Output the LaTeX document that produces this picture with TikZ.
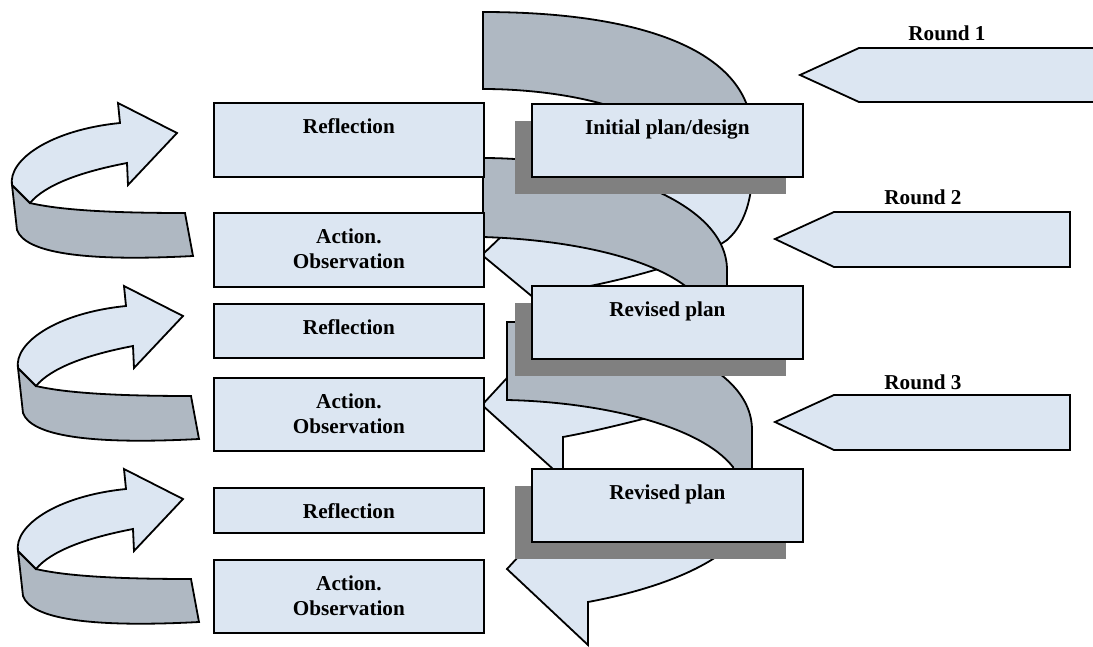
\documentclass[tikz,border=0pt]{standalone}
\usepackage{fontspec}
\setmainfont{Liberation Serif}
\usetikzlibrary{shadows}
\definecolor{paleblue}{RGB}{220,230,242}
\definecolor{backband}{RGB}{175,184,194}
\definecolor{shade}{RGB}{128,128,128}

\begin{document}
\begin{tikzpicture}[x=1pt,y=-1pt,
  every node/.style={font=\fontsize{21.2}{25}\selectfont\bfseries},
  front/.style={draw,fill=paleblue,line width=1.8pt},
  back/.style={draw,fill=backband,line width=1.8pt},
  stagebox/.style={front,minimum width=270pt,inner sep=0pt,anchor=north west},
  planbox/.style={stagebox,minimum width=271pt,minimum height=73pt,
    drop shadow={shadow xshift=-17pt,shadow yshift=-17pt,fill=shade,opacity=1}},
  lbl/.style={anchor=base,inner sep=0pt,align=center},
  uturn/.pic={
    \draw[back] (12,185) -- (17,230) .. controls (25,252) and (80,262) .. (193,256)
      -- (185,213) .. controls (110,213) and (60,210) .. (30,203) -- cycle;
    \draw[front] (12,185) .. controls (8,160) and (50,130) .. (120,123) -- (118,103)
      -- (177,133) -- (128,185) -- (127,163) .. controls (80,172) and (45,185) .. (30,203) -- cycle;
  }]
  \useasboundingbox (0,0) rectangle (1093,646);
  \clip (0,0) rectangle (1093,646);

  % spiral, round 1
  \draw[back] (483,12) .. controls (640,12) and (748,50) .. (752,130) -- (753,150) -- (670,150)
    .. controls (665,112) and (570,89) .. (483,89) -- cycle;
  \draw[front] (753,150) .. controls (754,190) and (748,222) .. (727,240)
    .. controls (705,256) and (640,278) .. (563,291) -- (563,322) -- (482,255) -- (550,190) -- (560,228)
    .. controls (610,222) and (650,210) .. (665,170) -- (670,150) -- cycle;
  % round 2
  \draw[back] (483,158) .. controls (600,158) and (727,200) .. (727,270) -- (727,320) -- (705,320)
    -- (700,300) .. controls (670,262) and (580,240) .. (483,237) -- cycle;
  \draw[front] (727,320) .. controls (727,380) and (690,408) .. (643,419)
    .. controls (615,426) and (590,432) .. (563,437) -- (563,478) -- (482,405) -- (555,326) -- (563,372)
    .. controls (640,365) and (700,345) .. (705,320) -- cycle;
  % round 3
  \draw[back] (507,322) .. controls (630,322) and (752,360) .. (752,430) -- (752,505) -- (742,505)
    -- (733,467) .. controls (700,425) and (600,402) .. (507,400) -- cycle;
  \draw[front] (752,505) .. controls (752,550) and (680,585) .. (588,602) -- (588,645) -- (507,569)
    -- (580,490) -- (588,538) .. controls (660,532) and (735,520) .. (742,505) -- cycle;

  \pic at (0,0) {uturn};
  \pic at (6,183) {uturn};
  \pic at (6,366) {uturn};

  \draw[front] (1100,48) -- (859,48) -- (800,75) -- (859,102) -- (1100,102);
  \draw[front] (1070,212) -- (834,212) -- (775,239) -- (834,267) -- (1070,267) -- cycle;
  \draw[front] (1070,395) -- (834,395) -- (775,422) -- (834,450) -- (1070,450) -- cycle;
  \node[lbl] (round1) at (947,40) {Round 1};
  \node[lbl] (round2) at (923,204) {Round 2};
  \node[lbl] (round3) at (923,389) {Round 3};

  \node[stagebox,minimum height=74pt] (refl1) at (213,102) {};
  \node[stagebox,minimum height=74pt] (act1) at (213,212) {};
  \node[stagebox,minimum height=54pt] (refl2) at (213,303) {};
  \node[stagebox,minimum height=73pt] (act2) at (213,377) {};
  \node[stagebox,minimum height=45pt] (refl3) at (213,487) {};
  \node[stagebox,minimum height=73pt] (act3) at (213,559) {};
  \node[lbl] (refl1-t) at ([yshift=-31pt]refl1.north) {Reflection};
  \node[lbl] (act1-t) at ([yshift=-56pt]act1.north) {Action.\\Observation};
  \node[lbl] (refl2-t) at ([yshift=-31pt]refl2.north) {Reflection};
  \node[lbl] (act2-t) at ([yshift=-56pt]act2.north) {Action.\\Observation};
  \node[lbl] (refl3-t) at ([yshift=-31pt]refl3.north) {Reflection};
  \node[lbl] (act3-t) at ([yshift=-56pt]act3.north) {Action.\\Observation};

  \node[planbox] (plan0) at (531,103) {};
  \node[planbox] (plan1) at (531,285) {};
  \node[planbox] (plan2) at (531,468) {};
  \node[lbl] (plan0-t) at ([yshift=-31pt]plan0.north) {Initial plan/design};
  \node[lbl] (plan1-t) at ([yshift=-31pt]plan1.north) {Revised plan};
  \node[lbl] (plan2-t) at ([yshift=-31pt]plan2.north) {Revised plan};
\end{tikzpicture}
\end{document}
